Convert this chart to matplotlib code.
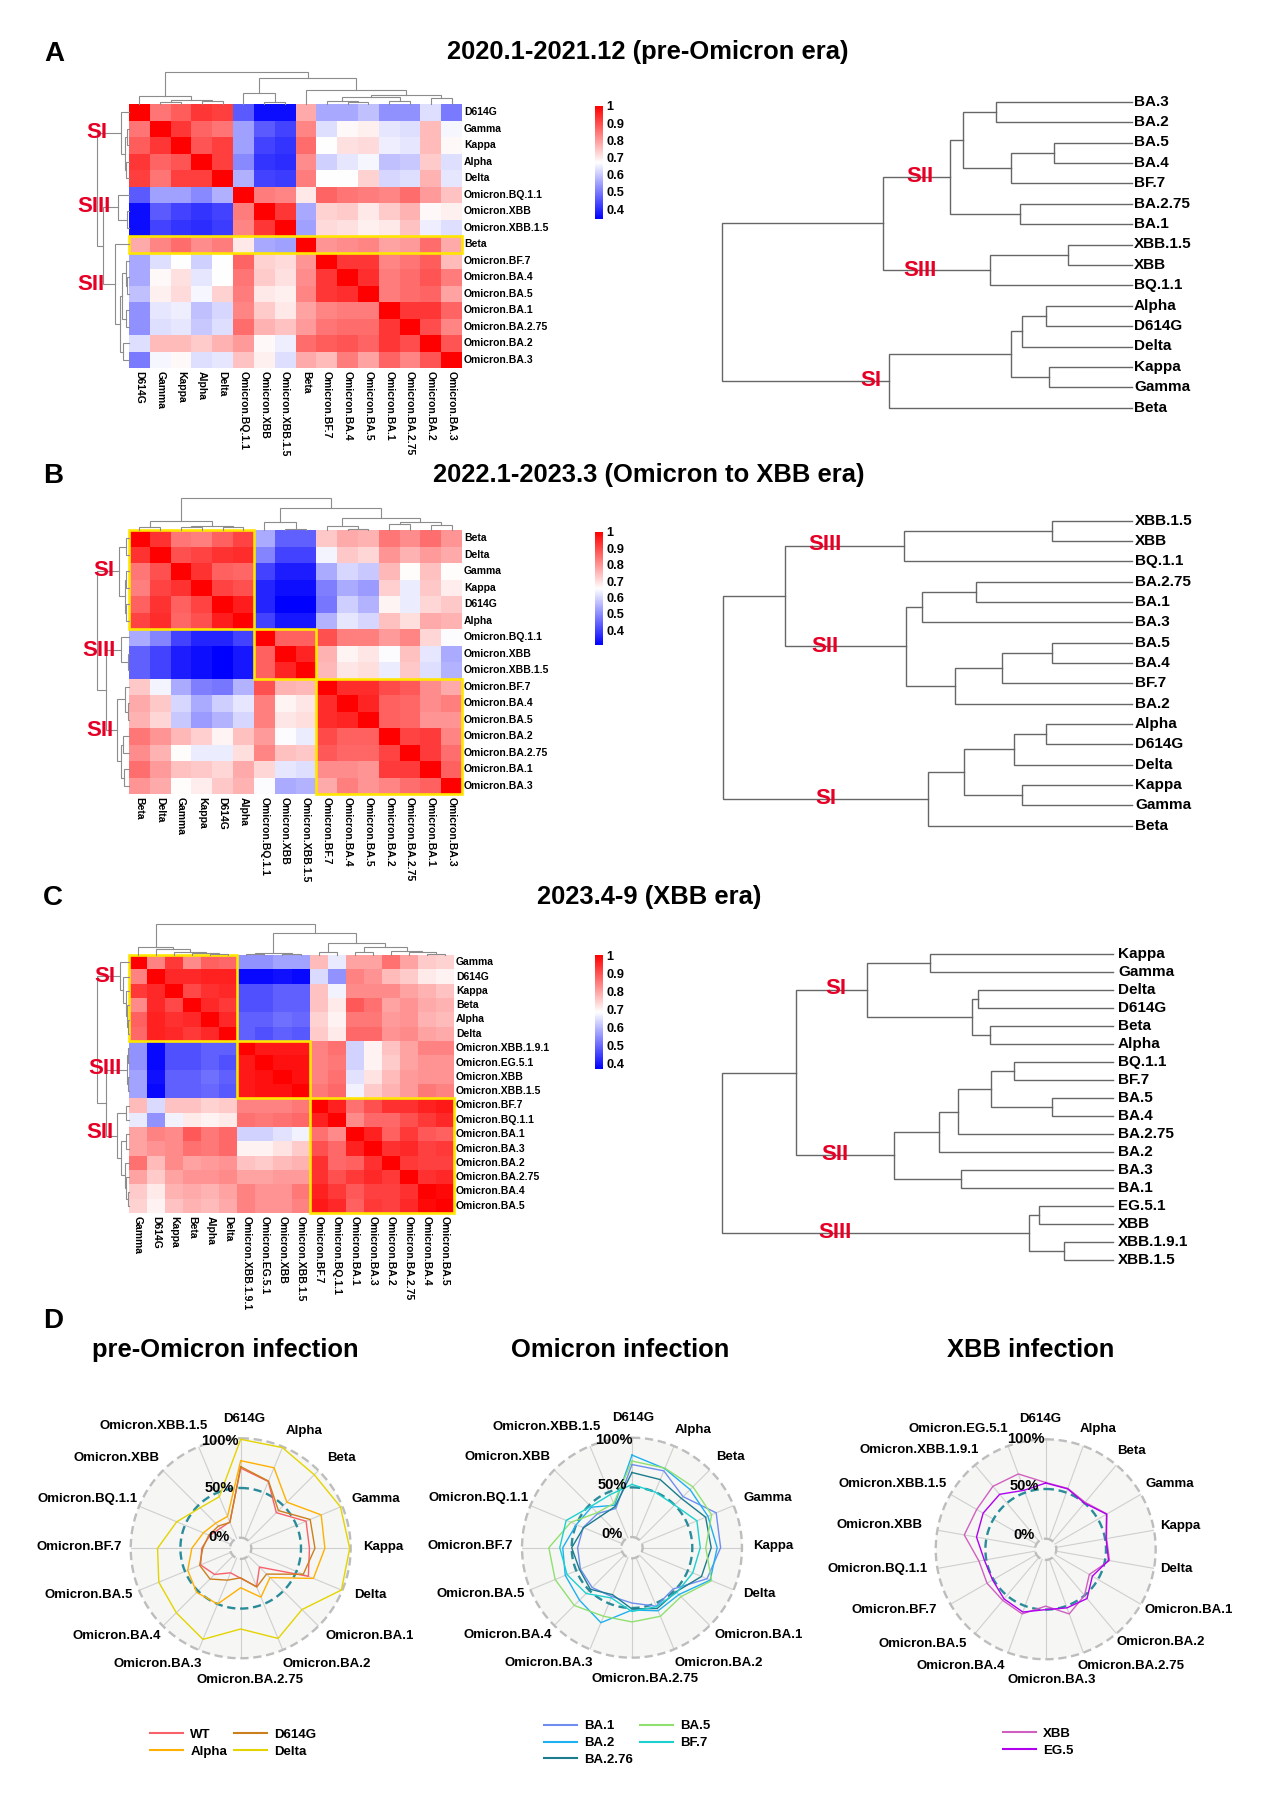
import numpy as np
import matplotlib
matplotlib.use('Agg')
import matplotlib.pyplot as plt
from matplotlib.colors import LinearSegmentedColormap, Normalize
from matplotlib.patches import Rectangle

plt.rcParams['font.family'] = ['Liberation Sans', 'DejaVu Sans']

W, H = 1268, 1793

# ---- heatmap data (upper triangles, rows top to bottom) ----
rows_a = ['D614G', 'Gamma', 'Kappa', 'Alpha', 'Delta', 'Omicron.BQ.1.1', 'Omicron.XBB', 'Omicron.XBB.1.5', 'Beta',
          'Omicron.BF.7', 'Omicron.BA.4', 'Omicron.BA.5', 'Omicron.BA.1', 'Omicron.BA.2.75', 'Omicron.BA.2', 'Omicron.BA.3']
upper_a = [
    [1, .85, .88, .93, .92, .46, .36, .36, .78, .56, .56, .59, .53, .53, .63, .50],
    [1, .93, .87, .85, .55, .46, .43, .83, .63, .68, .69, .64, .63, .76, .66],
    [1, .89, .92, .55, .43, .41, .86, .67, .71, .72, .65, .64, .76, .68],
    [1, .92, .52, .41, .40, .82, .61, .64, .66, .59, .60, .74, .63],
    [1, .57, .43, .42, .84, .67, .67, .73, .62, .63, .77, .64],
    [1, .84, .83, .70, .87, .85, .84, .83, .86, .80, .75],
    [1, .93, .56, .73, .74, .70, .74, .77, .68, .69],
    [1, .55, .72, .71, .69, .70, .75, .65, .63],
    [1, .81, .82, .83, .79, .80, .86, .78],
    [1, .93, .93, .83, .85, .88, .76],
    [1, .94, .84, .86, .89, .84],
    [1, .84, .86, .87, .79],
    [1, .93, .93, .87],
    [1, .90, .83],
    [1, .89],
    [1],
]

rows_b = ['Beta', 'Delta', 'Gamma', 'Kappa', 'D614G', 'Alpha', 'Omicron.BQ.1.1', 'Omicron.XBB', 'Omicron.XBB.1.5',
          'Omicron.BF.7', 'Omicron.BA.4', 'Omicron.BA.5', 'Omicron.BA.2', 'Omicron.BA.2.75', 'Omicron.BA.1', 'Omicron.BA.3']
upper_b = [
    [1, .93, .84, .83, .87, .91, .54, .44, .44, .73, .77, .76, .84, .81, .85, .80],
    [1, .89, .91, .93, .94, .49, .40, .40, .64, .73, .71, .80, .76, .79, .77],
    [1, .93, .87, .86, .40, .35, .35, .54, .60, .58, .75, .66, .74, .66],
    [1, .91, .89, .36, .33, .33, .48, .54, .52, .72, .63, .73, .68],
    [1, .96, .36, .31, .31, .47, .59, .55, .67, .63, .71, .73],
    [1, .40, .34, .34, .55, .62, .60, .74, .70, .77, .76],
    [1, .87, .87, .89, .83, .83, .79, .82, .71, .65],
    [1, .95, .76, .67, .69, .65, .74, .62, .54],
    [1, .75, .69, .70, .63, .73, .61, .55],
    [1, .94, .94, .90, .88, .81, .77],
    [1, .95, .87, .86, .81, .83],
    [1, .87, .86, .80, .80],
    [1, .91, .92, .82],
    [1, .92, .85],
    [1, .87],
    [1],
]

rows_c = ['Gamma', 'D614G', 'Kappa', 'Beta', 'Alpha', 'Delta', 'Omicron.XBB.1.9.1', 'Omicron.EG.5.1', 'Omicron.XBB',
          'Omicron.XBB.1.5', 'Omicron.BF.7', 'Omicron.BQ.1.1', 'Omicron.BA.1', 'Omicron.BA.3', 'Omicron.BA.2',
          'Omicron.BA.2.75', 'Omicron.BA.4', 'Omicron.BA.5']
upper_c = [
    [1, .84, .93, .83, .88, .87, .55, .55, .57, .57, .77, .66, .80, .80, .86, .80, .75, .74],
    [1, .95, .95, .96, .96, .38, .38, .39, .38, .64, .55, .84, .82, .77, .75, .71, .70],
    [1, .91, .94, .95, .47, .47, .49, .49, .76, .67, .83, .83, .83, .80, .78, .76],
    [1, .95, .93, .47, .47, .49, .49, .76, .71, .89, .86, .80, .82, .79, .78],
    [1, .95, .49, .49, .51, .50, .74, .70, .85, .85, .81, .82, .78, .77],
    [1, .49, .47, .49, .48, .75, .71, .87, .87, .82, .83, .80, .79],
    [1, .97, .97, .97, .84, .86, .63, .70, .76, .80, .84, .84],
    [1, .98, .98, .84, .85, .63, .70, .75, .80, .82, .82],
    [1, .98, .84, .86, .65, .72, .77, .81, .82, .82],
    [1, .85, .87, .67, .75, .78, .81, .85, .84],
    [1, .96, .86, .90, .94, .94, .96, .97],
    [1, .83, .87, .87, .90, .93, .95],
    [1, .96, .88, .93, .89, .88],
    [1, .94, .95, .92, .93],
    [1, .93, .92, .92],
    [1, .94, .95],
    [1, .99],
    [1],
]

# dendrograms over the heatmaps: [height, child, child], ints are leaves
tree_a = [95, [24, 0, [11, [6, 1, 2], [9, 3, 4]]],
          [77, [32, 5, [5, 6, 7]], [41, 8, [26, [20, [8, 9, [7, 10, 11]], [8, 12, 13]], [19, 14, 15]]]]]
tree_b = [95, [28, [10, 0, 1], [12, [8, 2, 3], [8, 4, 5]]],
          [67, [23, 6, [2, 7, 8]], [35, [13, 9, [4, 10, 11]], [25, [18, 12, 13], [15, 14, 15]]]]]
tree_c = [94, [25, 0, [17, 1, [8, 2, [5, 3, [3, 4, 5]]]]],
          [67, [6, [2, 6, 7], [2, 8, 9]],
           [35, [10, 10, 11], [23, [8, 12, 13], [13, 14, [8, 15, [2, 16, 17]]]]]]]

# phylogenetic style trees on the right
names_a = ['BA.3', 'BA.2', 'BA.5', 'BA.4', 'BF.7', 'BA.2.75', 'BA.1', 'XBB.1.5', 'XBB', 'BQ.1.1',
           'Alpha', 'D614G', 'Delta', 'Kappa', 'Gamma', 'Beta']
phylo_a = [410, [248.7, [181.3, [168.3, [135.7, 0, 1], [120.3, [77.7, 2, 3], 4]], [112, 5, 6]],
                 [141.3, [64, 7, 8], 9]],
           [242.7, [120.3, [109.7, [85.3, 10, 11], 12], [82.3, 13, 14]], 15]]
names_b = ['XBB.1.5', 'XBB', 'BQ.1.1', 'BA.2.75', 'BA.1', 'BA.3', 'BA.5', 'BA.4', 'BF.7', 'BA.2',
           'Alpha', 'D614G', 'Delta', 'Kappa', 'Gamma', 'Beta']
phylo_b = [409, [346.7, [228, [80, 0, 1], 2],
                 [225.3, [210, [155.7, 3, 4], 5], [176.3, [129.3, [80, 6, 7], 8], 9]]],
           [204, [167.3, [117.7, [86, 10, 11], 12], [109.3, 13, 14]], 15]]
names_c = ['Kappa', 'Gamma', 'Delta', 'D614G', 'Beta', 'Alpha', 'BQ.1.1', 'BF.7', 'BA.5', 'BA.4', 'BA.2.75',
           'BA.2', 'BA.3', 'BA.1', 'EG.5.1', 'XBB', 'XBB.1.9.1', 'XBB.1.5']
phylo_c = [391.7, [317.7, [246, [183.3, 0, 1], [141.7, [135.7, 2, 3], [123.7, 4, 5]]],
                   [219, [174.3, [155.7, [122.3, [99.3, 6, 7], [61.3, 8, 9]], 10], 11], [152, 12, 13]]],
           [84.7, [74, 14, 15], [49.3, 16, 17]]]

# ---- radar data ----
radar_axes_1 = ['D614G', 'Alpha', 'Beta', 'Gamma', 'Kappa', 'Delta', 'Omicron.BA.1', 'Omicron.BA.2', 'Omicron.BA.2.75',
                'Omicron.BA.3', 'Omicron.BA.4', 'Omicron.BA.5', 'Omicron.BF.7', 'Omicron.BQ.1.1', 'Omicron.XBB',
                'Omicron.XBB.1.5']
radar_axes_3 = ['D614G', 'Alpha', 'Beta', 'Gamma', 'Kappa', 'Delta', 'Omicron.BA.1', 'Omicron.BA.2', 'Omicron.BA.2.75',
                'Omicron.BA.3', 'Omicron.BA.4', 'Omicron.BA.5', 'Omicron.BF.7', 'Omicron.BQ.1.1', 'Omicron.XBB',
                'Omicron.XBB.1.5', 'Omicron.XBB.1.9.1', 'Omicron.EG.5.1']

wt = [.70, .62, .40, .605, .585, .63, .16, .31, .195, .16, .265, .33, .285, .23, .18, .18]
alpha = [.775, .77, .55, .77, .74, .685, .31, .425, .29, .50, .52, .47, .385, .30, .25, .24]
d614g = [.715, .625, .43, .65, .64, .575, .26, .315, .19, .24, .33, .34, .275, .24, .21, .175]
delta = [.99, .99, .94, .98, .99, .99, .765, .875, .705, .885, .81, .785, .73, .59, .47, .455]

ba1 = [.73, .73, .62, .81, .785, .71, .48, .53, .45, .425, .46, .455, .44, .425, .38, .32]
ba2 = [.825, .755, .72, .72, .75, .745, .56, .58, .52, .71, .64, .62, .59, .50, .47, .355]
ba276 = [.65, .635, .595, .695, .69, .65, .52, .555, .51, .405, .485, .465, .50, .42, .34, .34]
ba5 = [.765, .76, .76, .76, .635, .76, .59, .64, .64, .64, .715, .73, .73, .56, .39, .375]
bf7 = [.53, .50, .50, .60, .58, .555, .53, .535, .535, .44, .545, .60, .62, .61, .48, .47]

xbb = [.565, .545, .51, .605, .515, .545, .40, .50, .585, .465, .585, .565, .575, .575, .725, .695, .72, .70]
eg5 = [.56, .54, .50, .60, .51, .535, .435, .54, .52, .50, .565, .545, .51, .52, .60, .62, .615, .525]

# label centres, in px
radar_labels_1 = [(672, 87), (852, 122), (964, 204), (1067, 327), (1091, 471), (1050, 616), (1049, 739), (921, 821),
                  (690, 869), (412, 821), (290, 739), (207, 616), (178, 471), (202, 327), (290, 204), (401, 108)]
radar_labels_2 = [(640, 84), (820, 119), (932, 201), (1042, 324), (1060, 469), (1019, 613), (1017, 736), (895, 818),
                  (676, 866), (385, 818), (263, 736), (181, 613), (151, 469), (175, 324), (263, 201), (380, 112)]
radar_labels_3 = [(632, 87), (803, 116), (905, 182), (1018, 283), (1051, 407), (1040, 538), (1075, 661), (991, 755),
                  (904, 827), (666, 870), (392, 827), (278, 762), (192, 661), (143, 538), (148, 405), (188, 282),
                  (269, 181), (385, 116)]

# ---- layout helpers ----
fig = plt.figure(figsize=(W / 100, H / 100), dpi=100)

canvas = fig.add_axes([0, 0, 1, 1], zorder=5)
canvas.set_xlim(0, W)
canvas.set_ylim(H, 0)
canvas.axis('off')
canvas.patch.set_alpha(0)


def ax_px(x0, y0, x1, y1, **kw):
    return fig.add_axes([x0 / W, 1 - y1 / H, (x1 - x0) / W, (y1 - y0) / H], **kw)


def full_matrix(upper):
    n = len(upper)
    m = np.zeros((n, n))
    for i, row in enumerate(upper):
        m[i, i:] = row
        m[i:, i] = row
    return m


def draw_tree(node, leaf_pos, to_xy, color, lw):
    if isinstance(node, int):
        return leaf_pos[node], 0
    h, a, b = node
    pa, ha = draw_tree(a, leaf_pos, to_xy, color, lw)
    pb, hb = draw_tree(b, leaf_pos, to_xy, color, lw)
    pts = [to_xy(pa, ha), to_xy(pa, h), to_xy(pb, h), to_xy(pb, hb)]
    canvas.plot([p[0] for p in pts], [p[1] for p in pts], color=color, lw=lw, solid_joinstyle='miter')
    return (pa + pb) / 2, h


cmap = LinearSegmentedColormap.from_list('bwr2', ['#0000ff', '#ffffff', '#ff0000'])
RED = '#e60026'
YELLOW = '#ffe600'


def heatmap(upper, rows, tree, vmin, x0, y0, x1, y1, left_scale, bar_y, boxes):
    m = full_matrix(upper)
    n = len(rows)
    ax = ax_px(x0, y0, x1, y1)
    norm = Normalize(vmin, 1)
    mesh = ax.pcolormesh(np.arange(n + 1), np.arange(n + 1), m, cmap=cmap, norm=norm)
    ax.set_xlim(0, n)
    ax.set_ylim(n, 0)
    ax.axis('off')
    for bx, by, bw, bh in boxes:
        ax.add_patch(Rectangle((bx, by), bw, bh, fill=False, ec=YELLOW, lw=1.9, clip_on=False, zorder=4))

    cw = (x1 - x0) / n
    ch = (y1 - y0) / n
    for i, name in enumerate(rows):
        canvas.text(x1 + 2, y0 + (i + .5) * ch, name, fontsize=7.5, fontweight='bold', va='center', ha='left')
        canvas.text(x0 + (i + .5) * cw, y1 + 3, name, fontsize=7.5, fontweight='bold', rotation=270,
                    va='top', ha='center')

    col_pos = [x0 + (i + .5) * cw for i in range(n)]
    row_pos = [y0 + (i + .5) * ch for i in range(n)]
    draw_tree(tree, col_pos, lambda p, h: (p, y0 - h / 3), '#8c8c8c', .8)
    draw_tree(tree, row_pos, lambda p, h: (x0 - h * left_scale / 2.53, p), '#8c8c8c', .8)

    cax = ax_px(595.4, bar_y[0], 602.6, bar_y[1])
    cb = fig.colorbar(mesh, cax=cax)
    cb.set_ticks([.4, .5, .6, .7, .8, .9, 1])
    cb.set_ticklabels(['0.4', '0.5', '0.6', '0.7', '0.8', '0.9', '1'])
    cb.ax.tick_params(length=0, pad=2.5, labelsize=9.2)
    for t in cb.ax.get_yticklabels():
        t.set_fontweight('bold')
    cb.outline.set_visible(False)


def phylo(tree, names, leaf_x, y_first, y_step, label_x):
    pos = [y_first + i * y_step for i in range(len(names))]
    draw_tree(tree, pos, lambda p, h: (leaf_x - h, p), '#666666', 1.0)
    for y, name in zip(pos, names):
        canvas.text(label_x, y, name, fontsize=11, fontweight='bold', va='center', ha='left')


def red_label(x, y, s):
    canvas.text(x, y, s, color=RED, fontsize=16, fontweight='bold', ha='center', va='center', zorder=10)


def radar(cx, cy, names, series, label_pos, origin, pct_pos, legend_xy, ncol):
    R = 110
    n = len(names)
    ax = ax_px(cx - R, cy - R, cx + R, cy + R, projection='polar')
    ax.set_theta_zero_location('N')
    ax.set_theta_direction(-1)
    ax.set_ylim(-.107, 1)
    ax.set_facecolor('#f6f6f4')
    ax.grid(False)
    ax.set_xticks([])
    ax.set_yticks([])
    ax.spines['polar'].set_visible(False)
    theta = np.arange(n) * 2 * np.pi / n
    circle = np.linspace(0, 2 * np.pi, 200)
    for t in theta:
        ax.plot([t, t], [0, 1], color='#cfcfcf', lw=.8, zorder=1)
    ax.plot(circle, np.ones(200), color='#bdbdbd', lw=1.7, ls=(0, (3.5, 2)), clip_on=False, zorder=2)
    ax.plot(circle, np.zeros(200), color='#bdbdbd', lw=1.7, ls=(0, (3.5, 2)), zorder=2)
    ax.plot(circle, np.full(200, .5), color='#2a8c9a', lw=1.7, ls=(0, (3.5, 2)), zorder=3)
    for name, vals, col in series:
        ax.plot(np.append(theta, theta[0]), vals + vals[:1], color=col, lw=1.0, label=name, zorder=4)

    for name, (zx, zy) in zip(names, label_pos):
        canvas.text(origin[0] + zx / 3, origin[1] + zy / 3, name, fontsize=9.5, fontweight='bold',
                    ha='center', va='center')
    for s, (zx, zy) in zip(['100%', '50%', '0%'], pct_pos):
        canvas.text(origin[0] + zx / 3, origin[1] + zy / 3, s, fontsize=10.5, fontweight='bold',
                    ha='center', va='center')

    leg = ax.legend(loc='center', bbox_to_anchor=(legend_xy[0] / W, 1 - legend_xy[1] / H),
                    bbox_transform=fig.transFigure, ncol=ncol, frameon=False, handlelength=2.5,
                    handletextpad=.55, columnspacing=.5, labelspacing=.35, borderpad=0,
                    prop={'weight': 'bold', 'size': 9.5})
    for line in leg.get_lines():
        line.set_linewidth(1.5)


# ---- panels A, B, C ----
heatmap(upper_a, rows_a, tree_a, .343, 129, 104, 462, 368, .84, (106, 219), [(0, 8, 16, 1)])
heatmap(upper_b, rows_b, tree_b, .31, 129, 530, 462, 794, .86,
        (532, 645), [(0, 0, 6, 6), (6, 6, 3, 3), (9, 9, 7, 7)])
heatmap(upper_c, rows_c, tree_c, .37, 129, 955, 454, 1213, .87,
        (955, 1069), [(0, 0, 6, 6), (6, 6, 4, 4), (10, 10, 8, 8)])

phylo(phylo_a, names_a, 1131.7, 101.7, 20.4, 1134)
phylo(phylo_b, names_b, 1131.7, 520.7, 20.33, 1135)
phylo(phylo_c, names_c, 1113.3, 954, 18, 1118)

for x, y, s in [(97, 133, 'SI'), (94, 207, 'SIII'), (91, 284, 'SII'), (104, 571, 'SI'), (99, 650, 'SIII'), (100, 731, 'SII'),
                (105, 977, 'SI'), (105, 1069, 'SIII'), (100, 1133, 'SII'), (920, 177, 'SII'), (920, 270, 'SIII'),
                (871, 381, 'SI'), (825, 545, 'SIII'), (825, 646, 'SII'), (826, 799, 'SI'), (836, 989, 'SI'),
                (835, 1155, 'SII'), (835, 1232, 'SIII')]:
    red_label(x, y, s)

# panel letters and titles
for x, y, s in [(54, 54, 'A'), (53, 476, 'B'), (53, 898, 'C'), (53, 1321, 'D')]:
    canvas.text(x, y, s, fontsize=20, fontweight='bold', ha='center', va='center')
canvas.text(648, 52, '2020.1-2021.12 (pre-Omicron era)', fontsize=18.4, fontweight='bold', ha='center', va='center')
canvas.text(649, 475, '2022.1-2023.3 (Omicron to XBB era)', fontsize=18.4, fontweight='bold', ha='center', va='center')
canvas.text(649, 897, '2023.4-9 (XBB era)', fontsize=18.4, fontweight='bold', ha='center', va='center')
canvas.text(225, 1350, 'pre-Omicron infection', fontsize=18.4, fontweight='bold', ha='center', va='center')
canvas.text(620, 1350, 'Omicron infection', fontsize=18.4, fontweight='bold', ha='center', va='center')
canvas.text(1031, 1350, 'XBB infection', fontsize=18.4, fontweight='bold', ha='center', va='center')

# ---- panel D ----
radar(240.7, 1548.3, radar_axes_1,
      [('WT', wt, '#f8606a'), ('Alpha', alpha, '#ffb000'), ('D614G', d614g, '#cc7f1d'), ('Delta', delta, '#e3d400')],
      radar_labels_1, (20, 1390), [(600, 152), (597, 293), (596, 440)], (233, 1743), 2)
radar(632, 1547.7, radar_axes_1,
      [('BA.1', ba1, '#6f8ef0'), ('BA.2', ba2, '#1fb0f0'), ('BA.2.76', ba276, '#1a7c8c'),
       ('BA.5', ba5, '#90e070'), ('BF.7', bf7, '#1cd0d0')],
      radar_labels_2, (420, 1390), [(581, 149), (578, 284), (576, 432)], (627, 1743), 2)
radar(1045.7, 1549.3, radar_axes_3,
      [('XBB', xbb, '#d060c0'), ('EG.5', eg5, '#b000f0')],
      radar_labels_3, (830, 1390), [(587, 146), (584, 288), (581, 435)], (1038, 1742), 1)

fig.savefig('out.png', dpi=100)
